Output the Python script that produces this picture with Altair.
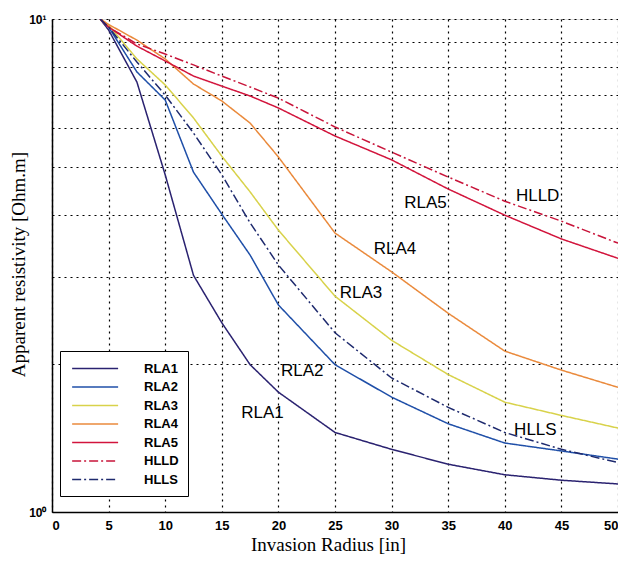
import altair as alt
import pandas as pd

# ---- data ----
radius = [4.25, 5, 7.5, 10, 12.5, 15, 17.5, 20, 25, 30, 35, 40, 45, 50]

rla1 = [10.0, 9.50, 7.45, 4.83, 3.02, 2.42, 1.99, 1.75, 1.45, 1.34, 1.25, 1.19, 1.16, 1.14]
rla2 = [10.0, 9.63, 7.81, 6.85, 4.89, 4.02, 3.32, 2.63, 1.99, 1.71, 1.51, 1.38, 1.33, 1.28]
rla3 = [10.0, 9.72, 8.30, 7.35, 6.30, 5.27, 4.46, 3.73, 2.74, 2.23, 1.90, 1.67, 1.57, 1.48]
rla4 = [10.0, 9.75, 9.06, 8.30, 7.38, 6.82, 6.15, 5.25, 3.68, 3.07, 2.53, 2.12, 1.94, 1.79]
rla5 = [10.0, 9.63, 8.81, 8.22, 7.66, 7.31, 6.98, 6.60, 5.79, 5.18, 4.52, 4.00, 3.58, 3.27]
hlld = [10.0, 9.63, 8.90, 8.49, 8.07, 7.66, 7.28, 6.91, 6.04, 5.37, 4.78, 4.27, 3.89, 3.51]
hlls = [10.0, 9.63, 8.18, 7.01, 5.87, 4.83, 3.86, 3.17, 2.31, 1.87, 1.63, 1.45, 1.34, 1.26]

series_names = ["RLA1", "RLA2", "RLA3", "RLA4", "RLA5", "HLLD", "HLLS"]
series_values = [rla1, rla2, rla3, rla4, rla5, hlld, hlls]
series_colors = ["#2a2270", "#1f4fa8", "#d8d24a", "#ea8a3c", "#d2143c", "#c8143a", "#1e2a6e"]
series_dash = [[1, 0], [1, 0], [1, 0], [1, 0], [1, 0], [9, 3, 2, 3], [9, 3, 2, 3]]

label_text = ["RLA5", "HLLD", "RLA4", "RLA3", "RLA2", "RLA1", "HLLS"]
label_x = [33.0, 42.9, 30.3, 27.3, 22.1, 18.6, 42.7]
label_y = [4.24, 4.38, 3.42, 2.78, 1.93, 1.59, 1.47]

x_ticks = [0, 5, 10, 15, 20, 25, 30, 35, 40, 45, 50]
y_grid = [1, 2, 3, 4, 5, 6, 7, 8, 9, 10]

rows = []
for name, vals in zip(series_names, series_values):
    for i, (x, v) in enumerate(zip(radius, vals)):
        rows.append({"series": name, "radius": x, "rho": v, "order": i})
df = pd.DataFrame(rows)
labels_df = pd.DataFrame({"text": label_text, "x": label_x, "y": label_y})

xscale = alt.Scale(domain=[0, 50], nice=False, zero=False)
yscale = alt.Scale(type="log", domain=[1, 10], nice=False)

lines = alt.Chart(df).mark_line(strokeWidth=1.5, clip=True).encode(
    x=alt.X("radius:Q", scale=xscale,
            axis=alt.Axis(title="Invasion Radius [in]", values=x_ticks, format="d",
                          grid=True, gridDash=[2, 4], gridColor="black", gridOpacity=1,
                          gridWidth=1.2,
                          labelFont="Liberation Sans", labelFontWeight="bold", labelFontSize=13,
                          labelColor="black", tickColor="black", tickSize=0, labelPadding=7,
                          domainColor="black", domainWidth=1.5,
                          titleFont="Liberation Serif", titleFontSize=19, titleFontWeight="normal",
                          titleColor="black", titlePadding=3, titleX=276)),
    y=alt.Y("rho:Q", scale=yscale,
            axis=alt.Axis(title="Apparent resistivity [Ohm.m]", values=y_grid,
                          labelExpr="datum.value == 1 ? '10⁰' : (datum.value == 10 ? '10¹' : '')",
                          grid=True, gridDash=[2, 4], gridColor="black", gridOpacity=1,
                          gridWidth=1.2,
                          labelFont="Liberation Sans", labelFontWeight="bold", labelFontSize=12,
                          labelColor="black", tickSize=0, labelPadding=6,
                          domainColor="black", domainWidth=1.5,
                          titleFont="Liberation Serif", titleFontSize=19, titleFontWeight="normal",
                          titleColor="black", titleX=-34, titleY=245, titleBaseline="middle",
                          titleAlign="center")),
    color=alt.Color("series:N",
                    scale=alt.Scale(domain=series_names, range=series_colors),
                    legend=alt.Legend(title=None, orient="none", legendX=8, legendY=332,
                                      strokeColor="black", fillColor="white", padding=9,
                                      symbolType="M-0.7,0H5.3", symbolSize=235, symbolStrokeWidth=1.6,
                                      labelFont="Liberation Sans", labelFontWeight="bold",
                                      labelFontSize=13, labelColor="black", labelOffset=58,
                                      rowPadding=2.5)),
    strokeDash=alt.StrokeDash("series:N",
                              scale=alt.Scale(domain=series_names, range=series_dash),
                              legend=None),
    order="order:Q",
)

texts = alt.Chart(labels_df).mark_text(font="Liberation Sans", fontSize=17, color="black",
                                       align="center", baseline="middle").encode(
    x=alt.X("x:Q", scale=xscale),
    y=alt.Y("y:Q", scale=yscale),
    text="text:N",
)

chart = alt.layer(lines, texts).properties(
    width=566, height=493,
    autosize=alt.AutoSizeParams(type="none"),
    padding={"left": 44, "top": 11, "right": 0, "bottom": 43},
).configure_view(stroke="black", strokeWidth=1.5).configure(background="white")

chart.save("out.html", embed_options={"renderer": "svg", "actions": False})
